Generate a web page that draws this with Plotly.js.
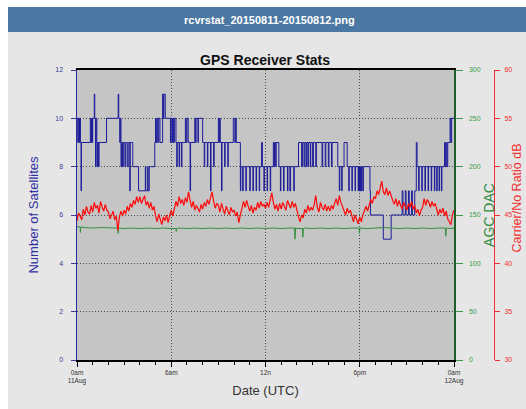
<!DOCTYPE html>
<html>
<head>
<meta charset="utf-8">
<script src="https://cdn.plot.ly/plotly-3.0.1.min.js"></script>
<style>html,body{margin:0;padding:0;background:#fff;}#chart{width:526px;height:409px;}</style>
</head>
<body>
<div id="chart"></div>
<script>
// ---- Data (time in hours UTC from 0am 11 Aug) ----
const satTime = [0.00,0.05,0.08,0.13,0.16,0.22,0.26,0.28,0.85,0.90,0.93,0.98,1.00,1.10,1.13,1.18,1.22,1.26,1.30,1.34,1.38,1.40,1.88,2.62,2.66,2.72,2.76,2.80,2.84,2.90,2.95,3.05,3.10,3.20,3.26,3.36,3.39,3.55,3.92,4.35,4.38,4.50,4.53,4.60,4.95,5.00,5.05,5.10,5.15,5.20,5.28,5.45,5.50,5.53,5.62,5.95,5.98,6.05,6.08,6.15,6.20,6.30,6.35,6.38,6.50,6.53,6.65,6.68,6.90,6.95,7.00,7.08,7.20,7.23,7.50,7.55,7.58,7.70,7.73,8.00,8.10,8.13,8.30,8.33,8.50,8.53,8.70,8.73,9.00,9.05,9.08,9.12,9.20,9.23,9.40,9.43,9.60,9.63,9.95,10.05,10.10,10.14,10.40,10.43,10.55,10.58,10.75,10.78,11.00,11.03,11.20,11.23,11.40,11.43,11.60,11.63,11.75,11.80,11.90,11.93,12.10,12.13,12.30,12.33,12.50,12.55,12.58,12.65,12.68,12.85,12.95,12.98,13.15,13.18,13.40,13.43,13.55,13.60,13.80,13.83,14.10,14.30,14.35,14.45,14.50,14.58,14.62,14.70,14.73,14.85,14.88,15.00,15.05,15.20,15.24,15.60,15.64,15.80,15.84,16.00,16.04,16.20,16.24,16.60,16.70,16.73,16.85,16.88,17.00,17.20,17.30,17.33,17.50,17.53,17.70,17.73,17.90,17.92,17.96,17.98,18.02,18.05,18.10,18.13,18.20,18.23,18.65,18.68,19.50,20.00,20.70,20.75,20.90,20.95,21.10,21.15,21.30,21.35,21.50,21.60,21.65,21.75,21.78,21.95,21.98,22.15,22.18,22.35,22.38,22.55,22.58,22.75,22.78,22.90,22.93,23.05,23.08,23.20,23.23,23.40,23.45,23.50,23.55,23.60,23.75,23.80,23.85,24.00];
const satCount = [10,9,10,9,10,9,7,9,10,9,10,9,10,11,10,8,10,9,8,9,8,9,10,11,10,9,10,8,9,8,9,8,9,8,9,7,9,8,7,8,7,8,7,8,9,10,9,10,9,10,9,11,10,11,10,9,10,9,10,9,10,9,8,9,8,9,8,9,10,9,10,9,7,9,10,9,10,9,10,9,8,9,8,9,7,9,8,9,10,9,10,9,7,9,8,9,8,9,10,9,10,9,7,8,7,8,7,8,7,8,7,8,7,8,7,8,9,8,7,8,7,8,7,8,9,8,9,8,9,8,7,8,7,8,7,8,7,8,7,8,9,8,9,8,9,8,9,8,9,8,9,8,9,8,9,8,9,8,9,8,9,8,9,8,7,8,7,8,9,8,7,8,7,8,7,8,7,8,7,8,7,8,7,8,7,8,7,6,5,6,7,6,7,6,7,6,7,6,7,9,8,7,8,7,8,7,8,7,8,7,8,7,8,7,8,7,8,7,8,9,8,9,8,9,10,9,10,10];

const snrStepHours = 0.1; // one sample every 6 minutes
const snrDb = [
  44.4,45.2,44.9,44.5,45.6,45.0,45.9,45.3,45.1,46.0,
  45.3,46.3,45.7,46.0,45.2,46.4,45.8,45.4,46.1,45.5,
  45.3,44.6,45.0,45.4,44.5,44.9,43.4,44.8,45.4,44.9,
  45.5,45.1,45.9,45.4,46.2,45.8,46.5,46.1,46.9,46.3,
  46.9,46.2,46.6,47.0,46.0,46.4,45.7,46.3,45.5,45.9,
  44.9,44.3,45.1,44.6,44.0,44.8,44.4,45.0,44.2,44.9,
  45.5,44.9,45.8,46.4,45.9,46.9,46.2,46.6,46.0,46.8,
  46.3,47.4,46.5,45.8,46.4,45.5,46.0,45.7,45.3,46.1,
  45.6,46.3,45.9,46.6,46.1,46.8,47.4,46.4,45.7,46.2,
  46.0,45.3,46.2,45.6,45.1,45.9,45.4,45.0,45.8,45.3,
  45.5,44.9,45.3,44.2,45.0,45.9,46.4,45.8,46.5,45.9,
  45.4,46.0,45.2,45.8,45.5,46.3,45.7,46.4,45.9,46.1,
  45.7,46.3,45.8,46.6,47.3,46.3,45.6,46.1,45.4,46.2,
  45.6,46.3,45.9,45.5,46.5,46.0,45.7,46.4,45.8,46.2,
  45.4,44.8,44.3,45.0,44.7,45.6,45.2,46.0,45.4,45.8,
  45.5,46.1,47.0,45.8,45.3,46.3,45.8,45.5,46.1,45.4,
  45.9,45.4,46.0,45.6,46.2,46.7,46.0,47.0,46.3,45.9,
  45.6,45.0,45.7,45.2,45.5,44.8,44.3,45.0,44.5,44.1,
  44.8,44.3,45.0,45.5,45.9,45.4,46.1,46.6,46.2,46.9,
  46.7,47.5,47.1,47.9,48.5,47.4,47.1,47.8,47.0,47.5,
  46.9,46.5,46.1,46.7,45.9,46.5,46.0,45.6,46.3,45.8,
  45.5,46.2,45.8,46.4,45.6,46.0,45.2,45.6,44.9,45.5,
  45.8,46.7,46.0,46.6,46.3,45.8,46.4,45.9,46.2,45.6,
  45.0,45.6,45.2,45.7,44.9,45.4,44.6,44.3,44.0,45.0,
  45.5];
const snrTime = snrDb.map((_, i) => i * snrStepHours);

const agcTime = [0,0.20,0.22,0.24,0.5,1,1.5,2,2.5,2.60,2.62,2.64,3,3.5,4,4.5,5,5.5,6,6.30,6.32,6.34,6.5,7,7.5,8,8.5,9,9.5,10,10.5,11,11.5,12,12.5,13,13.5,13.85,13.88,13.91,14,14.35,14.38,14.41,14.5,15,15.5,16,16.5,17,17.5,17.95,17.98,18.01,18.5,19,19.5,20,20.5,21,21.5,22,22.5,23,23.45,23.48,23.51,23.75,24];
const agcDac = [138,137.5,132,137.5,137,136.5,137,136.5,136.5,136.5,131,136.5,136,136.5,136,136.5,136,136.5,136,136,133,136,136.5,136,136.5,136,136.5,136,136.5,136,136.5,136,136.5,136,136.5,136,136.5,136.5,125,136.5,136,136,127,136,136.5,136,136.5,136,136.5,136,136.5,136.5,131,136.5,136,136.5,137,136.5,136,136.5,136,136.5,136,136.5,136.5,128,136.5,136,136.5];

const xTickVals = [0,6,12,18,24];
const xTickText = ['0am<br>11Aug','6am','12n','6pm','0am<br>12Aug'];

// ---- Plot ----
const FONT = 'Liberation Sans, Arial, sans-serif';
const traces = [
  {x: satTime, y: satCount, type: 'scatter', mode: 'lines', line: {shape: 'hv', color: '#1c1c9a', width: 1}, yaxis: 'y', name: 'Satellites', hoverinfo: 'skip'},
  {x: agcTime, y: agcDac, type: 'scatter', mode: 'lines', line: {color: '#2f8f3a', width: 1}, yaxis: 'y2', name: 'AGC DAC', hoverinfo: 'skip'},
  {x: snrTime, y: snrDb, type: 'scatter', mode: 'lines', line: {color: '#ff0a0a', width: 1.2}, yaxis: 'y3', name: 'C/No', hoverinfo: 'skip'}
];

const L = 77, R = 494, T = 70, B = 360, W = 526, H = 409;
const px = v => (v - L) / (R - L);
const py = v => (B - v) / (B - T);

const layout = {
  width: W, height: H,
  margin: {l: L, r: W - R, t: T, b: H - B, pad: 0},
  paper_bgcolor: '#e6e6e6',
  plot_bgcolor: '#c5c5c5',
  showlegend: false,
  font: {family: FONT, color: '#333'},
  title: {text: '<b>GPS Receiver Stats</b>', font: {size: 14, color: '#111', family: FONT}, xref: 'container', x: 0.504, xanchor: 'center', yref: 'container', y: 1 - 60/409, yanchor: 'middle'},
  xaxis: {
    domain: [0, (454 - L) / (R - L)],
    range: [0, 24], tickmode: 'array', tickvals: xTickVals, ticktext: xTickText,
    ticks: 'outside', ticklen: 5, tickcolor: '#000', tickwidth: 1,
    minor: {tickmode: 'linear', tick0: 0, dtick: 1, ticks: 'outside', ticklen: 3, tickcolor: '#000', showgrid: false},
    showline: true, linecolor: '#000', linewidth: 2, mirror: true,
    showgrid: true, gridcolor: '#4a4a4a', griddash: '1px,2px', gridwidth: 1,
    zeroline: false,
    tickfont: {size: 6.5, color: '#333', family: FONT},
    title: {text: 'Date (UTC)', font: {size: 13, color: '#333', family: FONT}, standoff: 2}
  },
  yaxis: {
    range: [0, 12], dtick: 2, tick0: 0,
    ticks: 'outside', ticklen: 5, tickcolor: '#3a3aa0',
    showline: true, linecolor: '#2a2a9a', linewidth: 1.5,
    showgrid: true, gridcolor: '#4a4a4a', griddash: '1px,2px', gridwidth: 1,
    zeroline: false, ticklabelstandoff: 6,
    tickfont: {size: 7, color: '#3a3aa0', family: FONT},
    title: {text: 'Number of Satellites', font: {size: 13, color: '#3030a0', family: FONT}, standoff: 14}
  },
  yaxis2: {
    overlaying: 'y', side: 'right', anchor: 'x',
    range: [0, 300], dtick: 50, tick0: 0,
    ticks: 'outside', ticklen: 7, tickcolor: '#3a9a4a',
    showline: true, linecolor: '#1e5e28', linewidth: 1.5,
    showgrid: false, zeroline: false, ticklabelstandoff: 5,
    tickfont: {size: 7, color: '#3a9a4a', family: FONT},
    title: {text: 'AGC DAC', font: {size: 14, color: '#2e8b3e', family: FONT}, standoff: 2}
  },
  yaxis3: {
    overlaying: 'y', side: 'right', anchor: 'free', position: 1,
    range: [30, 60], dtick: 5, tick0: 30,
    ticks: 'outside', ticklen: 5, tickcolor: '#f03030',
    showline: true, linecolor: '#f03030', linewidth: 1,
    showgrid: false, zeroline: false, ticklabelstandoff: 3,
    tickfont: {size: 7, color: '#f03030', family: FONT}
  },
  shapes: [
    {type: 'rect', xref: 'paper', yref: 'paper', x0: px(0), x1: px(W), y0: py(7), y1: py(0), fillcolor: '#ffffff', line: {width: 0}, layer: 'below'},
    {type: 'rect', xref: 'paper', yref: 'paper', x0: px(0), x1: px(8), y0: py(H), y1: py(0), fillcolor: '#ffffff', line: {width: 0}, layer: 'below'},
    {type: 'rect', xref: 'paper', yref: 'paper', x0: px(8), x1: px(W), y0: py(32), y1: py(7), fillcolor: '#4b77a3', line: {width: 0}, layer: 'below'}
  ],
  annotations: [
    {text: '<b>rcvrstat_20150811-20150812.png</b>', xref: 'paper', yref: 'paper', x: px(269), y: py(20), xanchor: 'center', yanchor: 'middle', showarrow: false, font: {size: 11, color: '#ffffff', family: FONT}},
    {text: 'Carrier/No Ratio dB', textangle: -90, xref: 'paper', yref: 'paper', x: px(516.5), y: py(198), xanchor: 'center', yanchor: 'middle', showarrow: false, font: {size: 12.5, color: '#f03030', family: FONT}}
  ]
};

Plotly.newPlot('chart', traces, layout, {displayModeBar: false, staticPlot: true});
</script>
</body>
</html>
